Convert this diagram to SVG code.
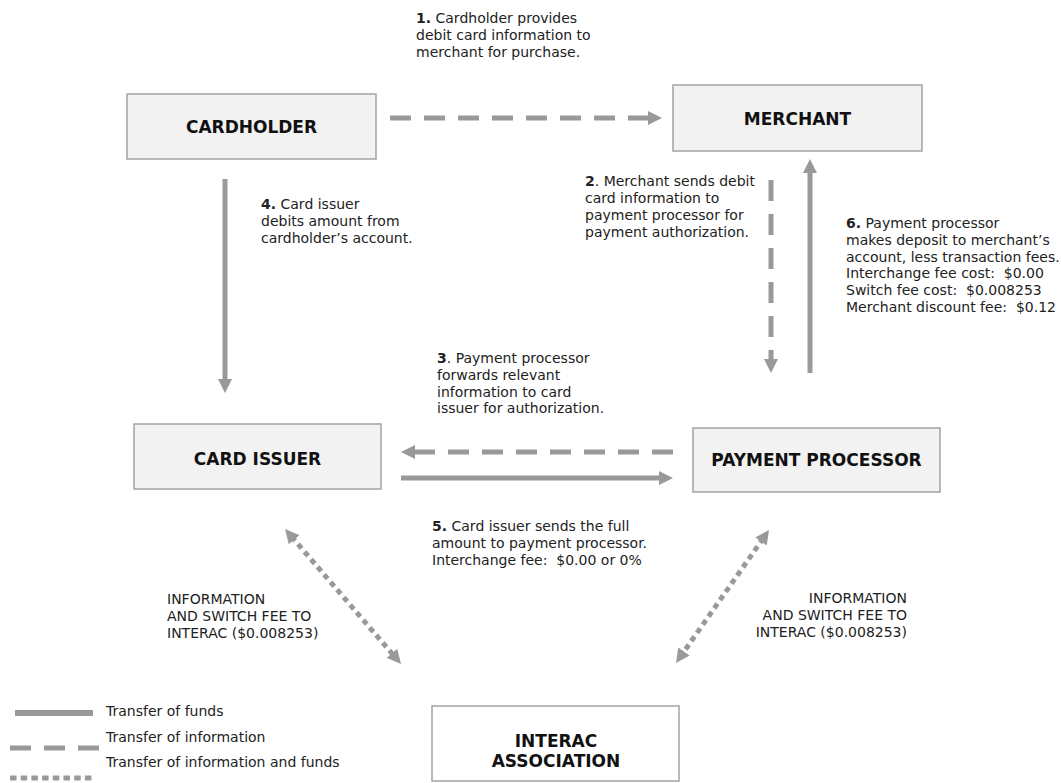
<svg xmlns="http://www.w3.org/2000/svg" width="1062" height="783" viewBox="0 0 1062 783">
<style>
.box{fill:#f2f2f2;stroke:#a3a3a3;stroke-width:1.5}
.boxw{fill:#ffffff;stroke:#a3a3a3;stroke-width:1.5}
.lbl{font-family:"DejaVu Sans",Verdana,sans-serif;font-weight:bold;font-size:17px;fill:#111;text-anchor:middle}
.t{font-family:"DejaVu Sans",Verdana,sans-serif;font-size:14px;fill:#222;white-space:pre}
.b{font-weight:bold}
.solid{fill:none;stroke:#999;stroke-width:5}
.dash{fill:none;stroke:#999;stroke-width:5;stroke-dasharray:21 13}
.dot{fill:none;stroke:#999;stroke-width:5;stroke-dasharray:5.5 4.5}
</style>
<defs>
<marker id="ah" markerUnits="userSpaceOnUse" markerWidth="14" markerHeight="14" refX="4" refY="7" orient="auto-start-reverse" viewBox="0 0 14 14">
<path d="M0,0 L14,7 L0,14 z" fill="#999"/>
</marker>
</defs>
<g id="connectors">
<path class="dash" d="M390 118 H652" marker-end="url(#ah)"/>
<path class="dash" d="M771 180 V363" marker-end="url(#ah)"/>
<path class="solid" d="M810 373 V169" marker-end="url(#ah)"/>
<path class="solid" d="M225 179 V383" marker-end="url(#ah)"/>
<path class="dash" d="M673 452 H411" marker-end="url(#ah)"/>
<path class="solid" d="M401 478 H663" marker-end="url(#ah)"/>
<path class="dot" d="M291.5 536.6 L394.5 656.4" marker-start="url(#ah)" marker-end="url(#ah)"/>
<path class="dot" d="M763.3 538.2 L681.7 654.8" marker-start="url(#ah)" marker-end="url(#ah)"/>
</g>
<g id="cardholder">
<rect class="box" x="127" y="94" width="249" height="65"/>
<text class="lbl" x="251.5" y="133">CARDHOLDER</text>
</g>
<g id="merchant">
<rect class="box" x="673" y="85" width="249" height="66"/>
<text class="lbl" x="797.5" y="125">MERCHANT</text>
</g>
<g id="card-issuer">
<rect class="box" x="134" y="424" width="247" height="65"/>
<text class="lbl" x="257.5" y="465">CARD ISSUER</text>
</g>
<g id="payment-processor">
<rect class="box" x="693" y="428" width="247" height="64"/>
<text class="lbl" x="816.5" y="466">PAYMENT PROCESSOR</text>
</g>
<g id="interac-association">
<rect class="boxw" x="432" y="706" width="247" height="75"/>
<text class="lbl" x="556" y="747">INTERAC</text>
<text class="lbl" x="556" y="767">ASSOCIATION</text>
</g>
<g id="labels">
<text class="t" x="416" y="23"><tspan class="b">1.</tspan> Cardholder provides</text>
<text class="t" x="416" y="40">debit card information to</text>
<text class="t" x="416" y="57">merchant for purchase.</text>

<text class="t" x="261" y="209"><tspan class="b">4.</tspan> Card issuer</text>
<text class="t" x="261" y="226">debits amount from</text>
<text class="t" x="261" y="243">cardholder’s account.</text>

<text class="t" x="585" y="186"><tspan class="b">2</tspan>. Merchant sends debit</text>
<text class="t" x="585" y="203">card information to</text>
<text class="t" x="585" y="220">payment processor for</text>
<text class="t" x="585" y="237">payment authorization.</text>

<text class="t" x="846" y="228"><tspan class="b">6.</tspan> Payment processor</text>
<text class="t" x="846" y="245">makes deposit to merchant’s</text>
<text class="t" x="846" y="262">account, less transaction fees.</text>
<text class="t" x="846" y="278">Interchange fee cost:  $0.00</text>
<text class="t" x="846" y="295">Switch fee cost:  $0.008253</text>
<text class="t" x="846" y="312">Merchant discount fee:  $0.12</text>

<text class="t" x="437" y="363"><tspan class="b">3</tspan>. Payment processor</text>
<text class="t" x="437" y="380">forwards relevant</text>
<text class="t" x="437" y="397">information to card</text>
<text class="t" x="437" y="413">issuer for authorization.</text>

<text class="t" x="432" y="531"><tspan class="b">5.</tspan> Card issuer sends the full</text>
<text class="t" x="432" y="548">amount to payment processor.</text>
<text class="t" x="432" y="565">Interchange fee:  $0.00 or 0%</text>

<text class="t" x="167" y="604">INFORMATION</text>
<text class="t" x="167" y="621">AND SWITCH FEE TO</text>
<text class="t" x="167" y="638">INTERAC ($0.008253)</text>

<text class="t" x="907" y="603" text-anchor="end">INFORMATION</text>
<text class="t" x="907" y="620" text-anchor="end">AND SWITCH FEE TO</text>
<text class="t" x="907" y="637" text-anchor="end">INTERAC ($0.008253)</text>
</g>
<g id="legend">
<path class="solid" d="M15 713 H93" style="stroke-width:6"/>
<path class="dash" d="M10 748 H99"/>
<path class="dot" d="M10 778 H93" style="stroke-dasharray:6.5 4.2"/>
<text class="t" x="106" y="716">Transfer of funds</text>
<text class="t" x="106" y="742">Transfer of information</text>
<text class="t" x="106" y="767">Transfer of information and funds</text>
</g>
</svg>
